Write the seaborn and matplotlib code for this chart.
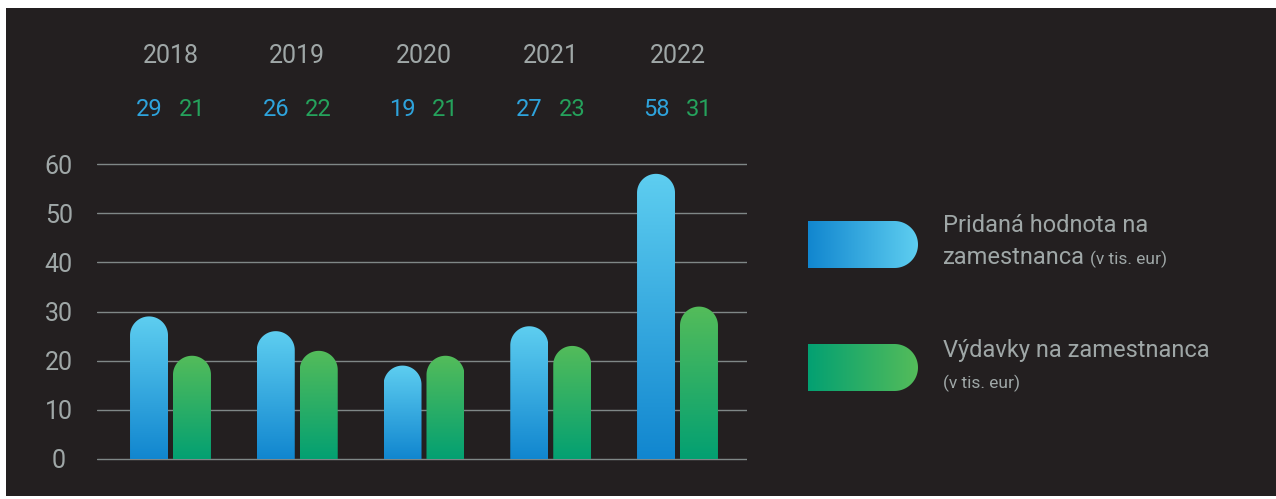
import numpy as np
import pandas as pd
import matplotlib
matplotlib.use("Agg")
import matplotlib.pyplot as plt
import matplotlib.transforms as mtransforms
from matplotlib.path import Path
from matplotlib.patches import PathPatch, Rectangle
from matplotlib.colors import to_rgb
import seaborn as sns

# ---- data ----
years = ["2018", "2019", "2020", "2021", "2022"]
added_value = [29, 26, 19, 27, 58]
expenses = [21, 22, 21, 23, 31]
series_names = ["Pridaná hodnota na zamestnanca", "Výdavky na zamestnanca"]
y_ticks = [0, 10, 20, 30, 40, 50, 60]

# ---- style ----
BG = "#231f20"
GRID = "#7f8787"
TXT = "#9fa7a7"
BLUE_TXT = "#2ea3dc"
GREEN_TXT = "#25a25c"
BLUE_TOP, BLUE_BOT = "#5ecef0", "#1186cf"
GREEN_TOP, GREEN_BOT = "#54bc5a", "#03a072"
FONT = ["Roboto", "DejaVu Sans"]
WEIGHT = "normal"

sns.set_theme(style="white")
plt.rcParams["font.family"] = FONT

W, H = 1276, 499
fig = plt.figure(figsize=(W / 100, H / 100), dpi=100, facecolor="white")
# dark panel
fig.patches.append(Rectangle((6 / W, 3 / H), 1 - 6 / W, 1 - 11 / H,
                             transform=fig.transFigure, facecolor=BG,
                             edgecolor="none", zorder=-10))

# axes geometry (pixels)
px_per_y = (459 - 164) / 60.0
ax_left, ax_right = 97, 747
ax_bot = 459 + px_per_y * 1.0
ax_top = 164 - px_per_y * 1.0
ax = fig.add_axes([ax_left / W, 1 - ax_bot / H, (ax_right - ax_left) / W,
                   (ax_bot - ax_top) / H])
ax.set_facecolor("none")

df = pd.DataFrame({
    "year": years * 2,
    "value": added_value + expenses,
    "series": [series_names[0]] * len(years) + [series_names[1]] * len(years),
})
sns.barplot(data=df, x="year", y="value", hue="series", order=years,
            hue_order=series_names, width=0.678, gap=0.116, legend=False,
            palette=[BLUE_BOT, GREEN_BOT], ax=ax)

unit = 126.75
c0 = 170.5
ax.set_xlim((ax_left - c0) / unit, (ax_right - c0) / unit)
ax.set_ylim(-1, 61)
for s in ax.spines.values():
    s.set_visible(False)
ax.set_xlabel("")
ax.set_ylabel("")
ax.set_xticks([])
ax.set_yticks(y_ticks)
ax.set_yticklabels([str(t) for t in y_ticks])
ax.tick_params(axis="y", length=0, pad=27.5, labelsize=18, labelcolor=TXT)
for lab in ax.get_yticklabels():
    lab.set_ha("center")
    lab.set_fontweight(WEIGHT)
for t in y_ticks:
    ax.axhline(t, color=GRID, lw=1.0, zorder=0)


def grad(c0, c1, n=256):
    a, b = np.array(to_rgb(c0)), np.array(to_rgb(c1))
    t = np.linspace(0, 1, n)[:, None]
    return a * (1 - t) + b * t


# replace bars with gradient rounded bars
fig.canvas.draw()
xpx = ax.transData.transform([(0, 0), (1, 0)])
ypx = ax.transData.transform([(0, 0), (0, 1)])
sx = xpx[1, 0] - xpx[0, 0]
sy = ypx[1, 1] - ypx[0, 1]
patches = list(ax.patches)
bar_centers = {}
for i, p in enumerate(patches):
    x0, w, h = p.get_x(), p.get_width(), p.get_height()
    if h <= 0:
        continue
    p.set_visible(False)
    is_blue = i < len(years)
    rx = w / 2
    ry = rx * sx / sy
    cx = x0 + rx
    th = np.linspace(0, np.pi, 60)
    arc = np.column_stack([cx + rx * np.cos(th), h - ry + ry * np.sin(th)])
    verts = np.vstack([[x0, 0], [x0 + w, 0], [x0 + w, h - ry], arc, [x0, 0]])
    codes = [Path.MOVETO] + [Path.LINETO] * (len(verts) - 2) + [Path.CLOSEPOLY]
    clip = PathPatch(Path(verts, codes), facecolor="none", edgecolor="none",
                     transform=ax.transData)
    ax.add_patch(clip)
    g = grad(BLUE_BOT, BLUE_TOP) if is_blue else grad(GREEN_BOT, GREEN_TOP)
    im = ax.imshow(g[:, None, :], extent=[x0, x0 + w, 0, h], origin="lower",
                   aspect="auto", zorder=2, interpolation="bilinear")
    im.set_clip_path(clip)
    bar_centers[i] = (cx, h, is_blue)

ax.set_xlim((ax_left - c0) / unit, (ax_right - c0) / unit)
ax.set_ylim(-1, 61)
ax.set_aspect("auto")

# labels above chart
trans = mtransforms.blended_transform_factory(ax.transData, fig.transFigure)
for k, yr in enumerate(years):
    ax.text(k, 1 - 56 / H, yr, transform=trans, ha="center", va="center",
            fontsize=18, color=TXT, fontweight=WEIGHT)
for i, (cx, h, is_blue) in bar_centers.items():
    k = i % len(years)
    val = added_value[k] if is_blue else expenses[k]
    ax.text(cx, 1 - 109 / H, str(val), transform=trans, ha="center",
            va="center", fontsize=17, color=BLUE_TXT if is_blue else GREEN_TXT,
            fontweight=WEIGHT)

# legend in pixel coordinates
lax = fig.add_axes([0, 0, 1, 1])
lax.set_xlim(0, W)
lax.set_ylim(H, 0)
lax.axis("off")
lax.patch.set_alpha(0)


def legend_shape(x0, x1, y0, y1, c_left, c_right):
    r = (y1 - y0) / 2
    th = np.linspace(-np.pi / 2, np.pi / 2, 60)
    arc = np.column_stack([x1 - r + r * np.cos(th), (y0 + y1) / 2 + r * np.sin(th)])
    verts = np.vstack([[x0, y0], [x1 - r, y0], arc, [x0, y1], [x0, y0]])
    codes = [Path.MOVETO] + [Path.LINETO] * (len(verts) - 2) + [Path.CLOSEPOLY]
    clip = PathPatch(Path(verts, codes), facecolor="none", edgecolor="none",
                     transform=lax.transData)
    lax.add_patch(clip)
    g = grad(c_left, c_right)
    im = lax.imshow(g[None, :, :], extent=[x0, x1, y1, y0], aspect="auto",
                    interpolation="bilinear")
    im.set_clip_path(clip)


legend_shape(808, 918, 221, 268, BLUE_BOT, BLUE_TOP)
legend_shape(808, 918, 344, 391, GREEN_BOT, GREEN_TOP)
lax.set_xlim(0, W)
lax.set_ylim(H, 0)

lt = dict(color=TXT, fontweight=WEIGHT, va="center", ha="left")
lax.text(943, 226, "Pridaná hodnota na", fontsize=17, **lt)
t1 = lax.text(943, 258, "zamestnanca", fontsize=17, **lt)
fig.canvas.draw()
bb = t1.get_window_extent()
x_end = bb.x1
lax.text(x_end + 5, 259, "(v tis. eur)", fontsize=12.5, **lt)
lax.text(943, 350, "Výdavky na zamestnanca", fontsize=17, **lt)
lax.text(943, 383, "(v tis. eur)", fontsize=12.5, **lt)

fig.savefig("out.png", dpi=100, facecolor="white")
